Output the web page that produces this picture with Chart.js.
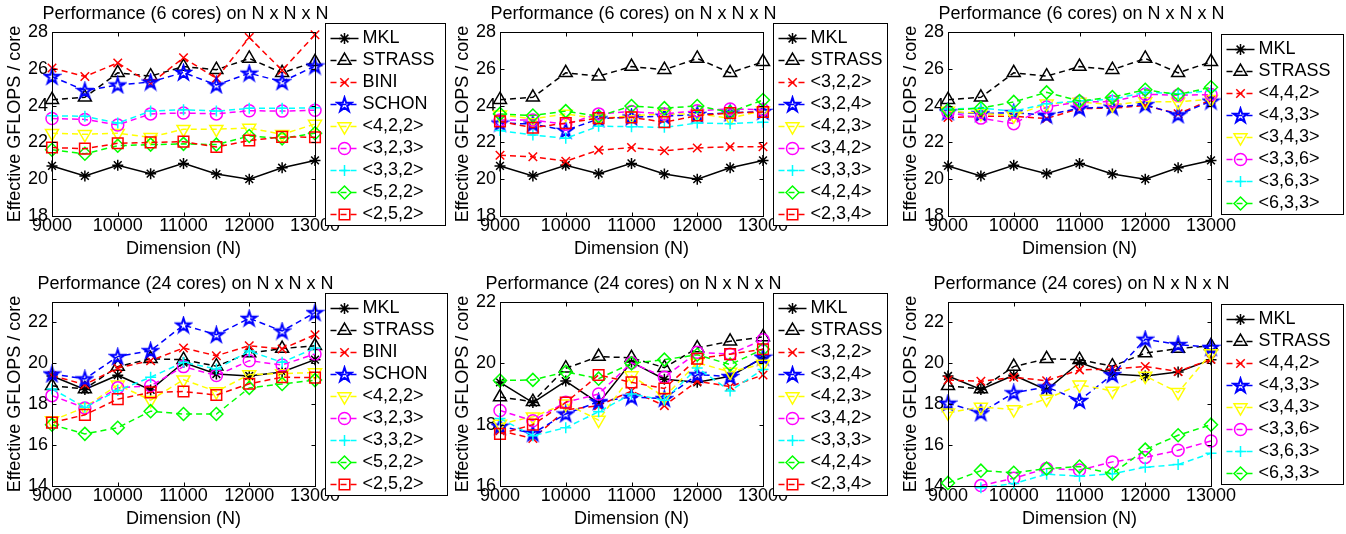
<!DOCTYPE html>
<html>
<head>
<meta charset="utf-8">
<script src="https://cdn.jsdelivr.net/npm/chart.js"></script>
<style>
  body { margin: 0; background: #fff; }
  #wrap { position: relative; width: 1346px; height: 534px; }
  canvas { position: absolute; }
</style>
</head>
<body>
<div id="wrap"></div>
<script>
// x values (matrix dimension N)
const dims = [9000, 9500, 10000, 10500, 11000, 11500, 12000, 12500, 13000]

// 6 cores
const mkl6 = [20.72, 20.18, 20.76, 20.3, 20.86, 20.28, 20.0, 20.62, 21.02]
const strass6 = [24.32, 24.45, 25.78, 25.6, 26.12, 25.95, 26.56, 25.78, 26.38]
const bini6 = [26.04, 25.58, 26.32, 25.2, 26.6, 25.48, 27.7, 25.92, 27.85]
const schon6 = [25.58, 24.82, 25.12, 25.28, 25.8, 25.12, 25.76, 25.3, 26.15]
const s422_6 = [22.5, 22.44, 22.5, 22.28, 22.72, 22.72, 22.78, 22.44, 23.0]
const s323_6 = [23.3, 23.25, 22.95, 23.55, 23.6, 23.55, 23.72, 23.7, 23.75]
const s332_6 = [23.45, 23.42, 23.05, 23.7, 23.78, 23.7, 23.85, 23.85, 23.88]
const s522_6 = [21.6, 21.38, 21.82, 21.88, 21.92, 21.88, 22.35, 22.22, 22.5]
const s252_6 = [21.72, 21.66, 21.95, 22.0, 22.04, 21.75, 22.1, 22.3, 22.28]
const s322_6 = [21.3, 21.22, 20.98, 21.58, 21.72, 21.55, 21.7, 21.76, 21.76]
const s324_6 = [23.05, 23.0, 22.65, 23.28, 23.38, 23.42, 23.52, 23.6, 23.68]
const s423_6 = [23.5, 23.28, 23.55, 23.28, 23.45, 23.55, 23.55, 23.32, 23.72]
const s342_6 = [23.22, 23.22, 22.98, 23.55, 23.68, 23.55, 23.72, 23.82, 23.78]
const s333_6 = [22.64, 22.4, 22.22, 22.88, 22.85, 22.82, 23.05, 23.02, 23.1]
const s424_6 = [23.55, 23.46, 23.7, 23.42, 23.98, 23.86, 23.98, 23.65, 24.3]
const s234_6 = [23.14, 22.8, 23.05, 23.32, 23.36, 23.1, 23.46, 23.6, 23.65]
const s442_6 = [23.35, 23.42, 23.42, 23.3, 23.84, 23.86, 24.0, 23.56, 24.3]
const s433_6 = [23.66, 23.56, 23.62, 23.48, 23.86, 23.92, 24.05, 23.5, 24.24]
const s343_6 = [23.7, 23.58, 23.45, 24.1, 24.2, 24.05, 24.22, 24.2, 24.35]
const s336_6 = [23.62, 23.32, 23.02, 23.92, 24.2, 24.22, 24.62, 24.56, 24.6]
const s363_6 = [23.82, 23.86, 23.7, 24.1, 24.26, 24.34, 24.72, 24.64, 24.82]
const s633_6 = [23.75, 23.86, 24.2, 24.72, 24.25, 24.46, 24.86, 24.6, 25.0]

// 24 cores
const mkl24 = [19.38, 18.72, 19.42, 18.7, 20.04, 19.48, 19.38, 19.58, 20.18]
const strass24 = [18.9, 18.75, 19.84, 20.22, 20.18, 19.86, 20.5, 20.72, 20.86]
const bini24 = [19.4, 18.96, 19.77, 20.13, 20.75, 20.37, 20.86, 20.7, 21.4]
const schon24 = [19.48, 19.24, 20.33, 20.62, 21.87, 21.4, 22.2, 21.58, 22.48]
const s422_24 = [17.2, 17.85, 18.95, 18.2, 19.2, 18.62, 19.45, 19.5, 19.55]
const s323_24 = [18.42, 17.82, 18.8, 18.9, 19.84, 19.4, 20.13, 19.92, 20.46]
const s332_24 = [18.75, 17.85, 18.67, 19.32, 20.05, 19.72, 20.6, 20.05, 20.75]
const s522_24 = [17.0, 16.55, 16.85, 17.66, 17.52, 17.52, 18.8, 18.99, 19.18]
const s252_24 = [17.1, 17.48, 18.25, 18.58, 18.62, 18.45, 19.0, 19.32, 19.3]
const s322_24 = [17.8, 17.55, 18.48, 18.62, 19.1, 18.62, 19.42, 19.24, 19.62]
const s324_24 = [17.95, 17.72, 18.35, 18.75, 18.9, 18.85, 19.63, 19.57, 20.2]
const s423_24 = [18.02, 18.26, 18.68, 18.15, 19.6, 18.9, 20.02, 19.72, 19.98]
const s342_24 = [18.46, 18.13, 18.73, 19.0, 20.02, 19.55, 20.36, 20.3, 20.77]
const s333_24 = [18.2, 17.64, 17.9, 18.42, 19.0, 18.8, 19.85, 19.1, 19.8]
const s424_24 = [19.44, 19.46, 19.72, 19.5, 20.0, 20.12, 20.28, 19.96, 20.46]
const s234_24 = [17.7, 18.0, 18.72, 19.62, 19.38, 19.18, 20.15, 20.3, 20.46]
const s442_24 = [19.18, 19.12, 19.32, 19.15, 19.68, 19.72, 19.85, 19.6, 20.2]
const s433_24 = [18.05, 17.58, 18.56, 18.85, 18.18, 19.45, 21.18, 20.92, 20.78]
const s343_24 = [17.58, 17.86, 17.74, 18.26, 18.95, 18.65, 19.38, 18.58, 20.48]
const s336_24 = [null, 14.02, 14.38, 14.86, 14.78, 15.18, 15.4, 15.75, 16.2]
const s363_24 = [null, 13.92, 14.12, 14.58, 14.48, 14.6, 14.92, 15.05, 15.6]
const s633_24 = [14.15, 14.75, 14.65, 14.85, 14.95, 14.6, 15.78, 16.48, 17.0]

// legend labels
const labelsA = ['MKL', 'STRASS', 'BINI', 'SCHON', '<4,2,2>', '<3,2,3>', '<3,3,2>', '<5,2,2>', '<2,5,2>']
const labelsB = ['MKL', 'STRASS', '<3,2,2>', '<3,2,4>', '<4,2,3>', '<3,4,2>', '<3,3,3>', '<4,2,4>', '<2,3,4>']
const labelsC = ['MKL', 'STRASS', '<4,4,2>', '<4,3,3>', '<3,4,3>', '<3,3,6>', '<3,6,3>', '<6,3,3>']

// y axis ranges
const yRange6 = [18, 28]
const yRangeA24 = [14, 23]
const yRangeB24 = [16, 22]
const yRangeC24 = [14, 23]

const title6 = 'Performance (6 cores) on N x N x N'
const title24 = 'Performance (24 cores) on N x N x N'

const FONT = '"Liberation Sans", Arial, Helvetica, sans-serif'
Chart.defaults.font.family = FONT
Chart.defaults.font.size = 18
Chart.defaults.color = '#000'

function pentagram (color, r) {
  const c = document.createElement('canvas')
  const s = Math.ceil(2 * r + 4)
  c.width = s
  c.height = s
  const g = c.getContext('2d')
  g.strokeStyle = color
  g.lineWidth = 2
  g.lineJoin = 'miter'
  g.beginPath()
  for (let k = 0; k < 10; k++) {
    const rr = k % 2 === 0 ? r : r * 0.38
    const a = -Math.PI / 2 + k * Math.PI / 5
    const px = s / 2 + rr * Math.cos(a)
    const py = s / 2 + 0.5 + rr * Math.sin(a)
    if (k === 0) g.moveTo(px, py)
    else g.lineTo(px, py)
  }
  g.closePath()
  g.stroke()
  return c
}

const DASH = [6, 4]
const styles = [
  { color: '#000000', dash: [], point: 'star', radius: 5.5 },
  { color: '#000000', dash: DASH, point: 'triangle', radius: 7.5 },
  { color: '#ff0000', dash: DASH, point: 'crossRot', radius: 6 },
  { color: '#0000ff', dash: DASH, point: pentagram('#0000ff', 7.5), radius: 7 },
  { color: '#ffff00', dash: DASH, point: 'triangle', radius: 7.5, rotation: 180 },
  { color: '#ff00ff', dash: DASH, point: 'circle', radius: 6 },
  { color: '#00ffff', dash: DASH, point: 'cross', radius: 5.5 },
  { color: '#00ff00', dash: DASH, point: 'rectRot', radius: 6.5 },
  { color: '#ff0000', dash: DASH, point: 'rect', radius: 7.5 }
]

const panels = [
  { title: title6, labels: labelsA, yr: yRange6, col: 0, row: 0, lw: 120,
    series: [mkl6, strass6, bini6, schon6, s422_6, s323_6, s332_6, s522_6, s252_6] },
  { title: title6, labels: labelsB, yr: yRange6, col: 1, row: 0, lw: 114,
    series: [mkl6, strass6, s322_6, s324_6, s423_6, s342_6, s333_6, s424_6, s234_6] },
  { title: title6, labels: labelsC, yr: yRange6, col: 2, row: 0, lw: 122,
    series: [mkl6, strass6, s442_6, s433_6, s343_6, s336_6, s363_6, s633_6] },
  { title: title24, labels: labelsA, yr: yRangeA24, col: 0, row: 1, lw: 122,
    series: [mkl24, strass24, bini24, schon24, s422_24, s323_24, s332_24, s522_24, s252_24] },
  { title: title24, labels: labelsB, yr: yRangeB24, col: 1, row: 1, lw: 114,
    series: [mkl24, strass24, s322_24, s324_24, s423_24, s342_24, s333_24, s424_24, s234_24] },
  { title: title24, labels: labelsC, yr: yRangeC24, col: 2, row: 1, lw: 122,
    series: [mkl24, strass24, s442_24, s433_24, s343_24, s336_24, s363_24, s633_24] }
]

const drawMarker = (Chart.helpers && Chart.helpers.drawPoint) || function () {}

// matlab-like box, inward ticks, title and legend
const frame = {
  id: 'frame',
  afterDraw (chart, args, opts) {
    const { ctx, chartArea: a, scales: { x, y } } = chart
    ctx.save()
    ctx.strokeStyle = '#000'
    ctx.lineWidth = 1
    ctx.setLineDash([])
    const L = Math.round(a.left) + 0.5
    const R = Math.round(a.right) + 0.5
    const T = Math.round(a.top) + 0.5
    const B = Math.round(a.bottom) + 0.5
    ctx.strokeRect(L, T, R - L, B - T)
    ctx.beginPath()
    x.ticks.forEach(t => {
      const px = Math.round(x.getPixelForValue(t.value)) + 0.5
      ctx.moveTo(px, B); ctx.lineTo(px, B - 4)
      ctx.moveTo(px, T); ctx.lineTo(px, T + 4)
    })
    y.ticks.forEach(t => {
      const py = Math.round(y.getPixelForValue(t.value)) + 0.5
      ctx.moveTo(L, py); ctx.lineTo(L + 4, py)
      ctx.moveTo(R, py); ctx.lineTo(R - 4, py)
    })
    ctx.stroke()

    ctx.fillStyle = '#000'
    ctx.font = '18px ' + FONT
    ctx.textAlign = 'center'
    ctx.textBaseline = 'middle'
    ctx.fillText(opts.title, (a.left + a.right) / 2 + 2, 14)

    const ds = chart.data.datasets
    const n = ds.length
    const h = 22 * n + 4
    const bx = Math.round(a.right) + 10.5
    const by = Math.round((a.top + a.bottom) / 2 - h / 2) + 0.5
    ctx.fillStyle = '#fff'
    ctx.fillRect(bx, by, opts.legendWidth, h)
    ctx.strokeRect(bx, by, opts.legendWidth, h)
    ds.forEach((d, i) => {
      const yy = by + h / 2 + 2 + (i - (n - 1) / 2) * 22
      ctx.strokeStyle = d.borderColor
      ctx.lineWidth = d.borderWidth
      ctx.setLineDash(d.borderDash)
      ctx.beginPath()
      ctx.moveTo(bx + 5, yy)
      ctx.lineTo(bx + 33, yy)
      ctx.stroke()
      ctx.setLineDash([])
      ctx.fillStyle = 'rgba(0,0,0,0)'
      ctx.lineWidth = d.pointBorderWidth
      drawMarker(ctx, {
        pointStyle: d.pointStyle,
        radius: d.pointRadius,
        rotation: d.pointRotation,
        borderWidth: d.pointBorderWidth
      }, bx + 19, yy)
      ctx.fillStyle = '#000'
      ctx.textAlign = 'left'
      ctx.fillText(d.label, bx + 37, yy)
    })
    ctx.restore()
  }
}

const wrap = document.getElementById('wrap')
panels.forEach(p => {
  const cv = document.createElement('canvas')
  cv.width = 450
  cv.height = 267
  cv.style.left = (p.col * 448) + 'px'
  cv.style.top = (p.row * 270) + 'px'
  wrap.appendChild(cv)

  const datasets = p.series.map((vals, i) => {
    const st = styles[i]
    return {
      label: p.labels[i],
      data: vals,
      borderColor: st.color,
      borderWidth: 1.5,
      borderDash: st.dash,
      pointStyle: st.point,
      pointRadius: st.radius,
      pointRotation: st.rotation || 0,
      pointBorderColor: st.color,
      pointBackgroundColor: 'rgba(0,0,0,0)',
      pointBorderWidth: 1.5,
      tension: 0,
      clip: 10,
      order: -i
    }
  })

  // eslint-disable-next-line no-new
  new Chart(cv, {
    type: 'line',
    data: { labels: dims, datasets },
    plugins: [frame],
    options: {
      responsive: false,
      animation: false,
      events: [],
      layout: { padding: { left: 0, right: 135, top: 32, bottom: 3 } },
      scales: {
        x: {
          type: 'linear',
          min: 9000,
          max: 13000,
          grid: { display: false, drawTicks: false },
          border: { display: false },
          ticks: {
            stepSize: 1000,
            autoSkip: false,
            maxRotation: 0,
            padding: 1,
            font: { size: 18, lineHeight: 1 },
            callback: v => String(v)
          },
          title: { display: true, text: 'Dimension (N)', font: { size: 18 } },
          afterFit: s => { s.height = 48 }
        },
        y: {
          min: p.yr[0],
          max: p.yr[1],
          grid: { display: false, drawTicks: false },
          border: { display: false },
          ticks: { stepSize: 2, includeBounds: false, padding: 4, font: { size: 18 } },
          title: { display: true, text: 'Effective GFLOPS / core', font: { size: 18 } },
          afterFit: s => { s.width = 52 }
        }
      },
      plugins: {
        legend: { display: false },
        tooltip: { enabled: false },
        frame: { title: p.title, legendWidth: p.lw }
      }
    }
  })
})
</script>
</body>
</html>
